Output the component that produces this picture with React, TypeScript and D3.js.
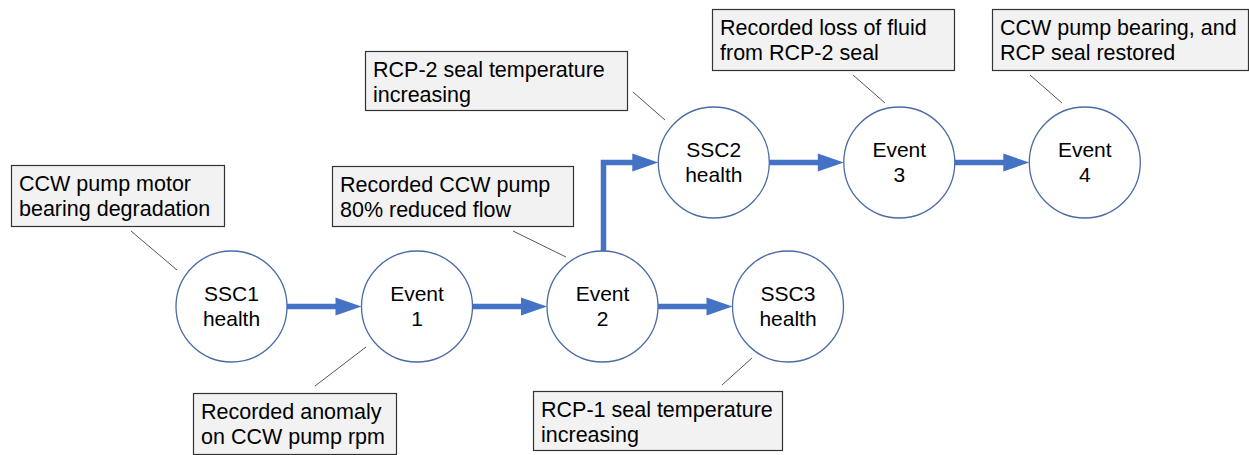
import * as d3 from "d3"

// node labels (two lines each)
const nodeIds = ["SSC1", "E1", "E2", "SSC3", "SSC2", "E3", "E4"]
const nodeLine1 = ["SSC1", "Event", "Event", "SSC3", "SSC2", "Event", "Event"]
const nodeLine2 = ["health", "1", "2", "health", "health", "3", "4"]
// column position along the timeline, and row (0 = lower, 1 = upper)
const nodeCol = [0, 1, 2, 3, 2.6, 3.6, 4.6]
const nodeRow = [0, 0, 0, 0, 1, 1, 1]

// directed links
const linkFrom = ["SSC1", "E1", "E2", "E2", "SSC2", "E3"]
const linkTo = ["E1", "E2", "SSC3", "SSC2", "E3", "E4"]

// annotation callouts
const noteText = [
  ["CCW pump motor", "bearing degradation"],
  ["Recorded CCW pump", "80% reduced flow"],
  ["RCP-2 seal temperature", "increasing"],
  ["Recorded loss of fluid", "from RCP-2 seal"],
  ["CCW pump bearing, and", "RCP seal restored"],
  ["Recorded anomaly", "on CCW pump rpm"],
  ["RCP-1 seal temperature", "increasing"],
]
const noteNode = ["SSC1", "E2", "SSC2", "E3", "E4", "E1", "SSC3"]

const W = 1249
const H = 455
const R = 55.5
const FONT = "'Liberation Sans', Arial, Helvetica, sans-serif"
const BLUE = "#4472c4"

// layout of callout boxes [x, y, w, h] and leader lines [x1, y1, x2, y2]
const noteBox = [
  [11, 165, 213, 61],
  [332, 166, 241, 60],
  [365, 51, 262, 59],
  [712, 9, 242, 61],
  [992, 9, 256, 61],
  [193, 393, 203, 61],
  [533, 391, 249, 59],
]
const noteLeader = [
  [131, 231, 177, 270],
  [513, 231, 566, 257],
  [633, 92, 665, 120],
  [853, 75, 885, 103],
  [1030, 75, 1062, 103],
  [315, 386, 366, 347],
  [722, 385, 752, 358],
]

export default function App() {
  const x = d3.scaleLinear().domain([0, 1]).range([231.5, 417])
  const y = d3.scaleLinear().domain([0, 1]).range([306.5, 162.5])

  const pos = new Map(
    nodeIds.map((id, i) => [id, { x: x(nodeCol[i]), y: y(nodeRow[i]) }])
  )

  const links = linkFrom.map((f, i) => {
    const a = pos.get(f)!
    const b = pos.get(linkTo[i])!
    let pts: [number, number][]
    if (Math.abs(a.y - b.y) < 1) {
      pts = [
        [a.x + R, a.y],
        [b.x - R, b.y],
      ]
    } else {
      // go up from the top of the source, then right into the target
      pts = [
        [a.x + 1, a.y - R],
        [a.x + 1, b.y],
        [b.x - R, b.y],
      ]
    }
    return pts
  })

  const line = d3.line()

  return (
    <svg
      width={W}
      height={H}
      style={{ position: "absolute", left: 0, top: 0, background: "#fff" }}
      fontFamily={FONT}
    >
      {noteLeader.map((l, i) => (
        <line
          key={"ld" + i}
          x1={l[0]}
          y1={l[1]}
          x2={l[2]}
          y2={l[3]}
          stroke="#555"
          strokeWidth={1}
        />
      ))}

      {links.map((pts, i) => {
        // trim the shaft so it ends under the arrowhead
        const p = pts.map(q => [q[0], q[1]] as [number, number])
        const last = p[p.length - 1]
        p[p.length - 1] = [last[0] - 20, last[1]]
        return (
          <g key={"lk" + i}>
            <path d={line(p) || ""} fill="none" stroke={BLUE} strokeWidth={5.5} />
            <path
              d={`M${last[0] - 26},${last[1] - 9}L${last[0]},${last[1]}L${last[0] - 26},${last[1] + 9}Z`}
              fill={BLUE}
            />
          </g>
        )
      })}

      {nodeIds.map((id, i) => {
        const p = pos.get(id)!
        return (
          <g key={id}>
            <circle cx={p.x} cy={p.y} r={R} fill="#fff" stroke="#4a6ba6" strokeWidth={1.3} />
            <text x={p.x} y={p.y - 5.5} textAnchor="middle" fontSize={21} fill="#000">
              {nodeLine1[i]}
            </text>
            <text x={p.x} y={p.y + 19.5} textAnchor="middle" fontSize={21} fill="#000">
              {nodeLine2[i]}
            </text>
          </g>
        )
      })}

      {noteText.map((lines, i) => {
        const b = noteBox[i]
        return (
          <g key={"nt" + i} data-node={noteNode[i]}>
            <rect
              x={b[0] + 0.5}
              y={b[1] + 0.5}
              width={b[2]}
              height={b[3]}
              fill="#f2f2f2"
              stroke="#333"
              strokeWidth={1.2}
            />
            {lines.map((t, j) => (
              <text
                key={j}
                x={b[0] + 8}
                y={b[1] + 26 + j * 24.5}
                fontSize={21.5}
                fill="#000"
              >
                {t}
              </text>
            ))}
          </g>
        )
      })}
    </svg>
  )
}
